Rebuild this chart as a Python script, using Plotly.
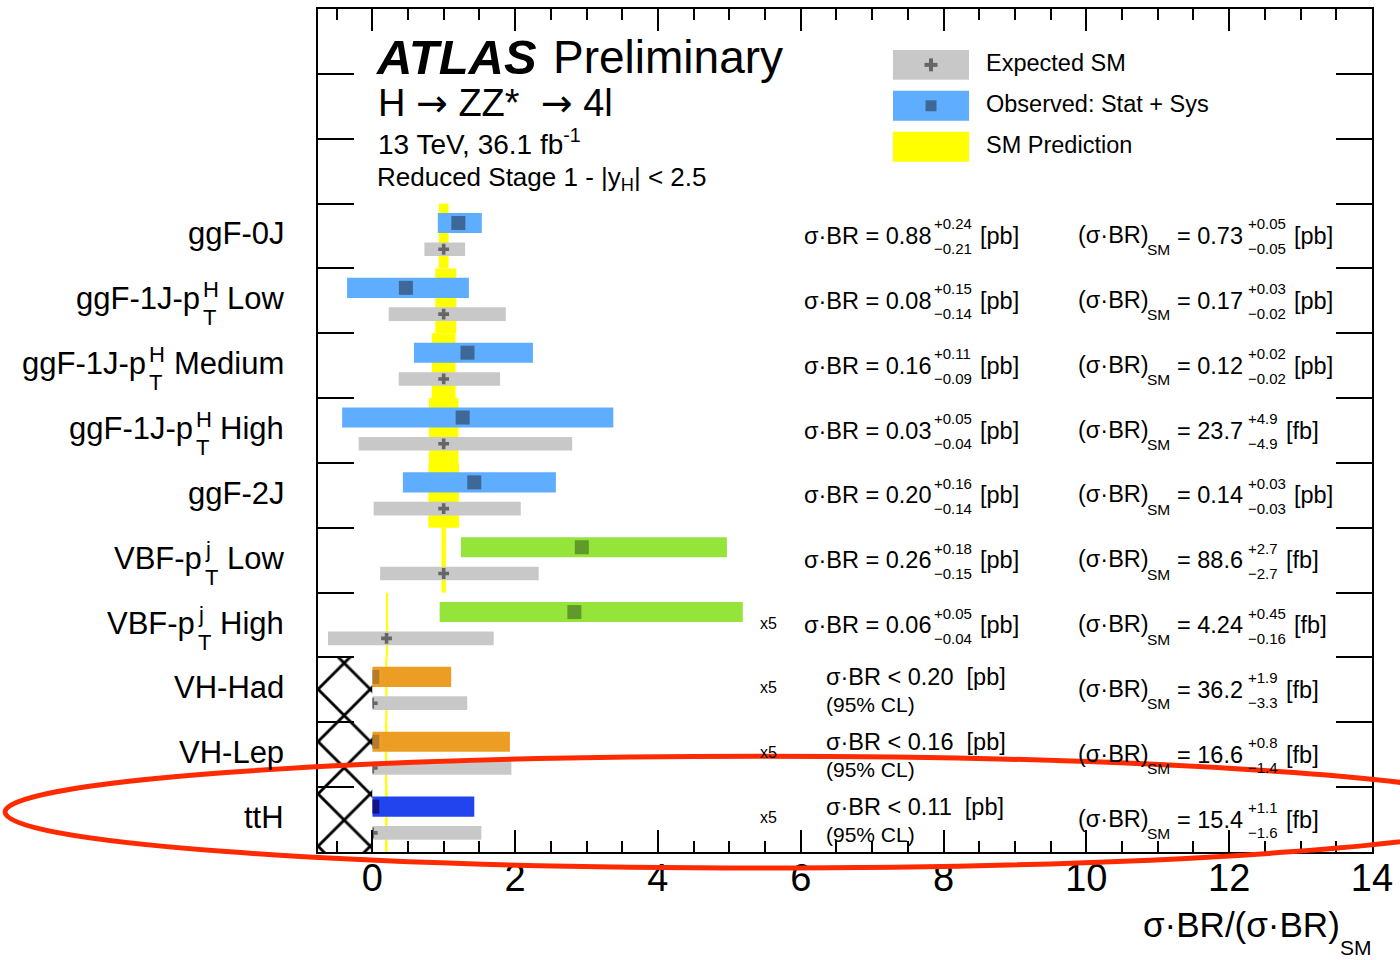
import plotly.graph_objects as go

FONT = "Liberation Sans, Arial, Helvetica, sans-serif"

# ---------------- values ----------------
# production bins (top to bottom); labels are split so that the
# p_T super/subscripts can be stacked
cat_main = ["ggF-0J", "ggF-1J-p", "ggF-1J-p", "ggF-1J-p", "ggF-2J",
            "VBF-p", "VBF-p", "VH-Had", "VH-Lep", "ttH"]
cat_sup = ["", "H", "H", "H", "", "j", "j", "", "", ""]
cat_sub = ["", "T", "T", "T", "", "T", "T", "", "", ""]
cat_suffix = ["", "Low", "Medium", "High", "", "Low", "High", "", "", ""]

# bins drawn divided by this factor ("x5")
row_scale = [1, 1, 1, 1, 1, 1, 5, 5, 5, 5]

# SM prediction of sigma x BR with uncertainties
sm_value = [0.73, 0.17, 0.12, 23.7, 0.14, 88.6, 4.24, 36.2, 16.6, 15.4]
sm_up = [0.05, 0.03, 0.02, 4.9, 0.03, 2.7, 0.45, 1.9, 0.8, 1.1]
sm_down = [0.05, 0.02, 0.02, 4.9, 0.03, 2.7, 0.16, 3.3, 1.4, 1.6]
sm_unit = ["pb", "pb", "pb", "fb", "pb", "fb", "fb", "fb", "fb", "fb"]
sm_dec = [2, 2, 2, 1, 2, 1, 2, 1, 1, 1]

# measured sigma x BR [pb] (first seven bins)
meas_value = [0.88, 0.08, 0.16, 0.03, 0.20, 0.26, 0.06]
meas_up = [0.24, 0.15, 0.11, 0.05, 0.16, 0.18, 0.05]
meas_down = [0.21, 0.14, 0.09, 0.04, 0.14, 0.15, 0.04]

# observed 95% CL upper limits [pb] (last three bins)
limit_obs = [0.20, 0.16, 0.11]

# expected result, in units of the SM prediction
exp_down = [0.27, 0.77, 0.63, 1.19, 0.98, 0.89, 4.1]
exp_up = [0.30, 0.87, 0.79, 1.80, 1.08, 1.33, 7.5]
exp_limit = [6.65, 9.74, 7.64]

# axis
x_ticks = [0, 2, 4, 6, 8, 10, 12, 14]

# ---------------- style ----------------
BAR_COLOR = {"ggF": "#5eadff", "VBF": "#94e43a", "VH": "#ec9e24", "ttH": "#2244ee"}
MARK_COLOR = {"ggF": "#3d6898", "VBF": "#5f9a2a", "VH": "#b57b2c", "ttH": "#121488"}
GREY = "#c8c8c8"
GREY_MARK = "#666666"
YELLOW = "#ffff00"

# ---------------- geometry ----------------
W, H = 1400, 960
ML, MR, MT, MB = 318, 28, 7, 108
PW, PH = W - ML - MR, H - MT - MB
X_MIN, X_MAX = -0.76, 14.0
N = len(cat_main)
N_HEAD = 3


def fx(xpx):
    return (xpx - ML) / PW


def fy(ypx):
    return (H - MB - ypx) / PH


# Helvetica/Arial advance widths (1/1000 em) used to lay out stacked scripts
_ADV = {' ': 278, '(': 333, ')': 333, '*': 389, '+': 584, ',': 278, '-': 333,
        '.': 278, '/': 278, ':': 278, '<': 584, '=': 584, '[': 278, ']': 278,
        '|': 260, '%': 889, '\u00b7': 278, '\u03c3': 571, '\u2212': 584,
        '\u2192': 1000}
_ADV.update({d: 556 for d in "0123456789"})
_ADV.update(dict(A=667, B=667, C=722, D=722, E=667, F=611, G=778, H=722, I=278,
                 J=500, K=667, L=556, M=833, N=722, O=778, P=667, Q=778, R=722,
                 S=667, T=611, U=722, V=667, W=944, X=667, Y=667, Z=611))
_ADV.update(dict(a=556, b=556, c=500, d=556, e=556, f=278, g=556, h=556, i=222,
                 j=222, k=500, l=222, m=833, n=556, o=556, p=556, q=556, r=333,
                 s=500, t=278, u=556, v=500, w=722, x=500, y=500, z=500))


def tw(s, size):
    return sum(_ADV.get(c, 556) for c in s) * size / 1000.0


annotations = []
shapes = []


def txt(s, xpx, y, size, dy=0.0, anchor="left", yref="y", color="black"):
    """Place text; y is a data value (yref='y') or a pixel row (yref='paper')."""
    yy = y if yref == "y" else fy(y)
    annotations.append(dict(
        text=s, xref="paper", x=fx(xpx), yref=yref, y=yy, yshift=-dy,
        xanchor=anchor, yanchor="middle", showarrow=False, borderpad=0,
        font=dict(family=FONT, size=size, color=color)))


def rect_px(x0, y0, x1, y1, color):
    shapes.append(dict(type="rect", xref="paper", yref="paper",
                       x0=fx(x0), x1=fx(x1), y0=fy(y1), y1=fy(y0),
                       fillcolor=color, line=dict(width=0), layer="above"))


def fmt(v, d):
    return f"{v:.{d}f}"


# ---------------- derived quantities ----------------
TO_PB = {"pb": 1.0, "fb": 1e-3}
sm_pb = [v * TO_PB[u] for v, u in zip(sm_value, sm_unit)]
n_meas = len(meas_value)
group = [c.split("-")[0] for c in cat_main]

row_top = [N - i for i in range(N)]
row_mid = [t - 0.5 for t in row_top]
obs_y = [t - 0.30 for t in row_top]
exp_y = [t - 0.705 for t in row_top]

obs_c, obs_lo, obs_hi = [], [], []
for i in range(n_meas):
    s = row_scale[i]
    obs_c.append(meas_value[i] / sm_pb[i] / s)
    obs_lo.append((meas_value[i] - meas_down[i]) / sm_pb[i] / s)
    obs_hi.append((meas_value[i] + meas_up[i]) / sm_pb[i] / s)
for j, lim in enumerate(limit_obs):
    i = n_meas + j
    obs_c.append(0.0)
    obs_lo.append(0.0)
    obs_hi.append(lim / sm_pb[i] / row_scale[i])

exp_c, exp_lo, exp_hi = [], [], []
for i in range(n_meas):
    s = row_scale[i]
    exp_c.append(1.0 / s)
    exp_lo.append((1.0 - exp_down[i]) / s)
    exp_hi.append((1.0 + exp_up[i]) / s)
for j, lim in enumerate(exp_limit):
    i = n_meas + j
    exp_c.append(0.0)
    exp_lo.append(0.0)
    exp_hi.append(lim / row_scale[i])

band_lo = [(1.0 - d / v) / s for v, d, s in zip(sm_value, sm_down, row_scale)]
band_hi = [(1.0 + u / v) / s for v, u, s in zip(sm_value, sm_up, row_scale)]

# ---------------- traces ----------------
fig = go.Figure()

# SM prediction band, full bin height
fig.add_trace(go.Bar(
    y=row_mid, base=band_lo, x=[h - l for l, h in zip(band_lo, band_hi)],
    orientation="h", width=1.0, marker=dict(color=YELLOW, line=dict(width=0)),
    hoverinfo="skip"))

# expected SM result
fig.add_trace(go.Bar(
    y=exp_y, base=exp_lo, x=[h - l for l, h in zip(exp_lo, exp_hi)],
    orientation="h", width=0.21, marker=dict(color=GREY, line=dict(width=0)),
    hoverinfo="skip"))

# observed result / limits
fig.add_trace(go.Bar(
    y=obs_y, base=obs_lo, x=[h - l for l, h in zip(obs_lo, obs_hi)],
    orientation="h", width=0.31,
    marker=dict(color=[BAR_COLOR[g] for g in group], line=dict(width=0)),
    hoverinfo="skip"))

fig.add_trace(go.Scatter(
    x=exp_c, y=exp_y, mode="markers", hoverinfo="skip",
    marker=dict(symbol="cross", size=9, color=GREY_MARK, line=dict(width=0))))

fig.add_trace(go.Scatter(
    x=obs_c, y=obs_y, mode="markers", hoverinfo="skip",
    marker=dict(symbol="square", size=14, color=[MARK_COLOR[g] for g in group],
                line=dict(width=0))))

# hatched region: negative values not allowed for the limit bins
n_lim = len(limit_obs)
fig.add_trace(go.Scatter(
    x=[X_MIN, 0, 0, X_MIN, X_MIN], y=[0, 0, n_lim, n_lim, 0],
    mode="lines", fill="toself", fillcolor="white",
    fillpattern=dict(shape="x", fgcolor="black", bgcolor="white",
                     size=37, solidity=0.15, fillmode="replace"),
    line=dict(width=0, color="rgba(0,0,0,0)"), hoverinfo="skip"))

# ---------------- bin labels (left) ----------------
LAB_R = 285
LAB_SIZE = 31
SCR_SIZE = 22
for i in range(N):
    if not cat_sup[i]:
        txt(cat_main[i], LAB_R, row_mid[i], LAB_SIZE, dy=-2, anchor="right")
        continue
    suf_x = LAB_R - tw(cat_suffix[i], LAB_SIZE)
    txt(cat_suffix[i], LAB_R, row_mid[i], LAB_SIZE, dy=-2, anchor="right")
    stack_w = max(tw(cat_sup[i], SCR_SIZE), tw(cat_sub[i], SCR_SIZE))
    stack_x = suf_x - tw(" ", LAB_SIZE) - stack_w - 2
    txt(cat_sup[i], stack_x, row_mid[i], SCR_SIZE, dy=-11)
    txt(cat_sub[i], stack_x, row_mid[i], SCR_SIZE, dy=17)
    txt(cat_main[i], stack_x - 1, row_mid[i], LAB_SIZE, dy=-2, anchor="right")

# ---------------- numbers (right) ----------------
VAL = 23.5
SCR = 15
MINUS = "\u2212"
SIG = "\u03c3\u00b7BR"


def value_group(x0, y, head, up, dn, unit):
    txt(head, x0, y, VAL)
    xs = x0 + tw(head, VAL) + 5
    txt(up, xs, y, SCR, dy=-12)
    txt(dn, xs, y, SCR, dy=13)
    xu = xs + max(tw(up, SCR), tw(dn, SCR)) + 8
    txt(f"[{unit}]", xu, y, VAL)


for i in range(N):
    y = row_mid[i]
    if i < n_meas:
        value_group(803, y, f"{SIG} = {fmt(meas_value[i], 2)}",
                    "+" + fmt(meas_up[i], 2), MINUS + fmt(meas_down[i], 2), "pb")
    else:
        lim = limit_obs[i - n_meas]
        txt(f"{SIG} &lt; {fmt(lim, 2)}  [pb]", 825, y, VAL, dy=-13)
        txt("(95% CL)", 825, y, 21, dy=15)
    # SM prediction
    x0 = 1077
    head = f"({SIG})"
    txt(head, x0, y, VAL, dy=-1)
    xsm = x0 + tw(head, VAL) + 1
    txt("SM", xsm, y, 15.5, dy=14)
    d = sm_dec[i]
    value_group(xsm + tw("SM", 15.5) + 7, y, f"= {fmt(sm_value[i], d)}",
                "+" + fmt(sm_up[i], d), MINUS + fmt(sm_down[i], d), sm_unit[i])
    if row_scale[i] != 1:
        txt(f"x{row_scale[i]}", 759, y, 16, dy=-2)

# ---------------- header ----------------
ARROW = '<span style="font-family:DejaVu Sans">\u2192</span>'
txt("<b><i>ATLAS</i></b>", 375, 55, 49, yref="paper")
txt("Preliminary", 552, 55, 46, yref="paper")
txt(f"H {ARROW} ZZ*\u00a0 {ARROW} 4l", 377, 101, 38, yref="paper")
txt("13 TeV, 36.1 fb<sup>-1</sup>", 377, 140, 28, yref="paper")
txt("Reduced Stage 1 - |y<sub>H</sub>| &lt; 2.5", 376, 177, 26, yref="paper")

# legend
LEG_X0, LEG_X1 = 893, 969
leg_rows = [(63, GREY, "Expected SM"), (104, BAR_COLOR["ggF"], "Observed: Stat + Sys"),
            (145, YELLOW, "SM Prediction")]
for yc, col, lab in leg_rows:
    rect_px(LEG_X0, yc - 15, LEG_X1, yc + 15, col)
    txt(lab, 985, yc - 1.5, 23.5, yref="paper")
cx = (LEG_X0 + LEG_X1) / 2
rect_px(cx - 6.5, 63 - 2, cx + 6.5, 63 + 2, GREY_MARK)
rect_px(cx - 2, 63 - 6.5, cx + 2, 63 + 6.5, GREY_MARK)
rect_px(cx - 5.5, 104 - 5.5, cx + 5.5, 104 + 5.5, MARK_COLOR["ggF"])

# x-axis title
t_main = "\u03c3\u00b7BR/(\u03c3\u00b7BR)"
txt("SM", 1373, H - MB + 96, 21, anchor="right", yref="paper")
txt(t_main, 1373 - tw("SM", 21) - 1, H - MB + 73, 35, anchor="right", yref="paper")

# highlight ellipse around the ttH bin
shapes.append(dict(type="circle", xref="paper", yref="paper",
                   x0=fx(5), x1=fx(1515), y0=fy(868), y1=fy(756),
                   line=dict(color="#ff2a00", width=5), layer="above"))

# ---------------- layout ----------------
fig.update_layout(
    width=W, height=H,
    margin=dict(l=ML, r=MR, t=MT, b=MB, pad=0),
    paper_bgcolor="white", plot_bgcolor="white",
    barmode="overlay", showlegend=False,
    font=dict(family=FONT, color="black"),
    annotations=annotations, shapes=shapes,
    xaxis=dict(
        range=[X_MIN, X_MAX], tickmode="array", tickvals=x_ticks,
        ticktext=[str(t) for t in x_ticks],
        ticks="inside", ticklen=22, tickwidth=2, tickcolor="black",
        ticklabelstandoff=-9,
        minor=dict(dtick=0.5, tick0=0, ticks="inside", ticklen=11,
                   tickwidth=2, tickcolor="black"),
        showline=True, linewidth=2, linecolor="black", mirror="ticks",
        showgrid=False, zeroline=False,
        tickfont=dict(family=FONT, size=38, color="black")),
    yaxis=dict(
        range=[0, N + N_HEAD], tickmode="array", tickvals=list(range(1, N + N_HEAD)),
        ticks="inside", ticklen=36, tickwidth=2, tickcolor="black",
        showticklabels=False, showline=True, linewidth=2, linecolor="black",
        mirror="ticks", showgrid=False, zeroline=False),
)

fig.write_html("out.html")
